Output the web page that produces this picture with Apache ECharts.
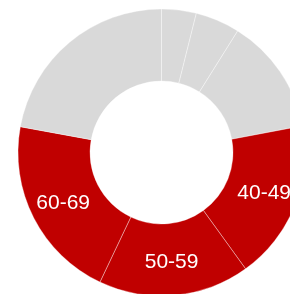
<!DOCTYPE html>
<html>
<head>
<meta charset="utf-8">
<style>html,body{margin:0;padding:0;background:#fff;}#c{width:290px;height:294px;}</style>
<script src="https://cdn.jsdelivr.net/npm/echarts@6/dist/echarts.min.js"></script>
</head>
<body>
<div id="c"></div>
<script>
var categories = ["<20", "20-29", "30-39", "40-49", "50-59", "60-69", "70+"];
var values = [3.9, 5.0, 13.1, 18.0, 17.0, 20.8, 22.1];
var highlighted = ["40-49", "50-59", "60-69"];

var chart = echarts.init(document.getElementById('c'), null, {renderer: 'canvas'});
var data = categories.map(function (c, i) {
  var hi = highlighted.indexOf(c) >= 0;
  return {
    name: c,
    value: values[i],
    itemStyle: {color: hi ? '#c00000' : '#d9d9d9'},
    label: {show: hi}
  };
});
chart.setOption({
  animation: false,
  series: [{
    type: 'pie',
    center: [161.5, 152.5],
    radius: [71.5, 143.5],
    startAngle: 90,
    clockwise: true,
    avoidLabelOverlap: false,
    itemStyle: {borderColor: 'rgba(255,255,255,0.6)', borderWidth: 0.6},
    label: {
      position: 'inside',
      formatter: '{b}',
      color: '#ffffff',
      fontSize: 21,
      fontFamily: 'Liberation Sans, Arial, sans-serif'
    },
    labelLine: {show: false},
    emphasis: {disabled: true},
    data: data
  }]
});
</script>
</body>
</html>
